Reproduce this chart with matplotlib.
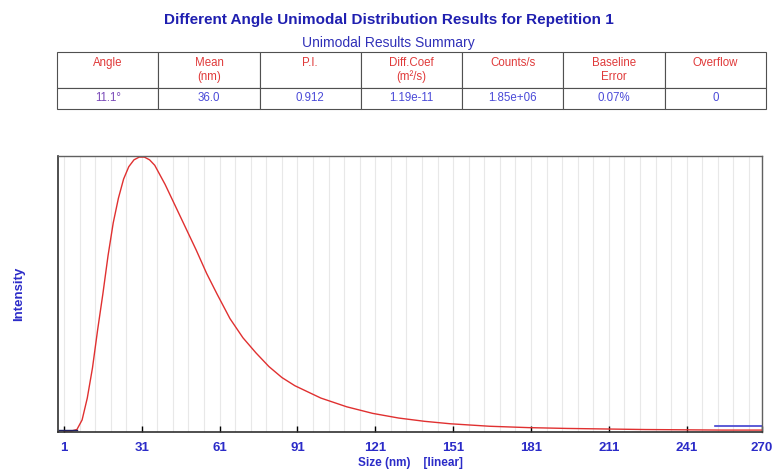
import numpy as np
import matplotlib.pyplot as plt

plt.rcParams['font.family'] = ['Liberation Sans', 'DejaVu Sans']

# size distribution
size_nm = [1, 4, 6, 8, 10, 12, 14, 16, 18, 20, 22, 24, 26, 28, 30, 32, 34, 36, 38, 40,
           44, 48, 52, 56, 60, 65, 70, 75, 80, 85, 90, 100, 110, 120, 130, 140, 150,
           165, 180, 195, 210, 225, 240, 255, 270]
intensity = [0.0, 0.0, 0.005, 0.04, 0.12, 0.23, 0.37, 0.50, 0.64, 0.76, 0.85, 0.92,
             0.965, 0.99, 1.0, 1.0, 0.99, 0.97, 0.935, 0.90,
             0.82, 0.74, 0.66, 0.575, 0.50, 0.41, 0.34, 0.285, 0.235, 0.195, 0.165,
             0.12, 0.088, 0.064, 0.047, 0.035, 0.026,
             0.017, 0.012, 0.009, 0.007, 0.005, 0.004, 0.003, 0.003]
overflow_x = [252, 270]
overflow_y = [0.017, 0.017]
tick_pos = [1, 31, 61, 91, 121, 151, 181, 211, 241, 270]

col_labels = ["Angle\n", "Mean\n(nm)", "P.I.\n", "Diff.Coef\n(m\u00b2/s)", "Counts/s\n",
              "Baseline\nError", "Overflow\n"]
row_values = ["11.1\u00b0", "36.0", "0.912", "1.19e-11", "1.85e+06", "0.07%", "0"]

blue = '#2b2bc8'
red = '#e03a3a'
narrow = ['Liberation Sans Narrow', 'Liberation Sans', 'DejaVu Sans']

fig = plt.figure(figsize=(7.77, 4.74), dpi=100)

fig.text(0.5, 0.958, 'Different Angle Unimodal Distribution Results for Repetition 1',
         ha='center', va='center', color='#1f1fb0', fontsize=11, fontweight='bold',
         family=narrow)
fig.text(0.5, 0.91, 'Unimodal Results Summary', ha='center', va='center',
         color='#3030b8', fontsize=10, family=narrow)

# summary table
tax = fig.add_axes([0.0734, 0.770, 0.9125, 0.120])
tax.axis('off')
tbl = tax.table(cellText=[col_labels, row_values], cellLoc='center',
                bbox=[0, 0, 1, 1])
tbl.auto_set_font_size(False)
for (r, c), cell in tbl.get_celld().items():
    cell.set_edgecolor('#505050')
    cell.set_linewidth(0.8)
    cell.set_height(0.63 if r == 0 else 0.37)
    txt = cell.get_text()
    txt.set_fontsize(8.3)
    if r == 0:
        txt.set_color(red)
    else:
        txt.set_color('#7a4ab8' if c == 0 else '#4a4ad8')

# distribution plot
ax = fig.add_axes([0.0746, 0.0886, 0.906, 0.5823])
ax.plot(size_nm, intensity, color='#e03030', linewidth=1.0)
ax.plot([-1, 6], [0.002, 0.002], color='#202060', linewidth=1.0)
ax.plot(overflow_x, overflow_y, color='#4040d0', linewidth=1.2)

ax.set_xlim(-1.3, 270)
ax.set_ylim(-0.004, 1.004)
ax.set_xticks(tick_pos)
ax.set_xticks(np.arange(1, 270, 6), minor=True)
ax.set_yticks([])
ax.grid(which='minor', axis='x', color='#e8e8e8', linewidth=0.8)
ax.grid(which='major', axis='x', color='#e8e8e8', linewidth=0.8)
ax.tick_params(axis='x', which='major', direction='in', length=4, width=1,
               pad=7, labelcolor=blue, labelsize=9.5)
ax.tick_params(axis='x', which='minor', length=0)
for lbl in ax.get_xticklabels():
    lbl.set_fontweight('bold')

for side in ['left', 'bottom']:
    ax.spines[side].set_color('#303030')
    ax.spines[side].set_linewidth(1.2)
for side in ['top', 'right']:
    ax.spines[side].set_color('#606060')
    ax.spines[side].set_linewidth(1.0)

ax.set_xlabel('Size (nm)    [linear]', color=blue, fontsize=8.5, fontweight='bold',
              labelpad=2)
ax.set_ylabel('Intensity', color=blue, fontsize=9.5, fontweight='bold', labelpad=24)

plt.savefig('out.png')
